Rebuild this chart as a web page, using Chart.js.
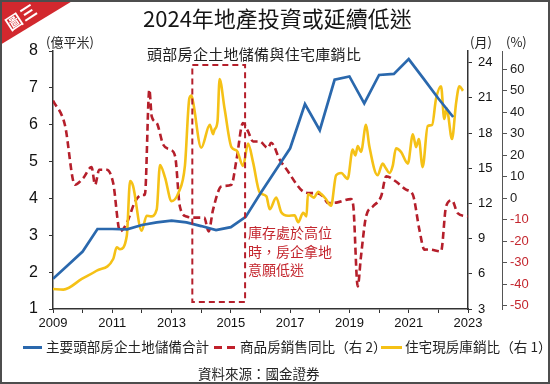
<!DOCTYPE html>
<html><head><meta charset="utf-8">
<script src="https://cdn.jsdelivr.net/npm/chart.js@4/dist/chart.umd.min.js"></script>
<style>
html,body{margin:0;padding:0;background:#fff;}
#wrap{position:relative;width:550px;height:384px;overflow:hidden;background:#fff;font-family:"Noto Sans CJK TC","Noto Sans",sans-serif;color:#222;}
#c{position:absolute;left:0;top:0;}
.t{position:absolute;white-space:nowrap;line-height:1;}
#frame{position:absolute;left:0;top:0;width:550px;height:384px;box-sizing:border-box;border:2px solid #4d4d4d;pointer-events:none;}
#corner{position:absolute;left:0;top:0;width:74px;height:45px;background:#d2282e;clip-path:polygon(0 0,100% 0,0 100%);}
#cornerText{position:absolute;left:4px;top:8px;color:#fff;font-size:16px;font-weight:bold;transform:rotate(-33deg);transform-origin:center;letter-spacing:1px;}
.lg{position:absolute;height:3px;}
</style></head>
<body><div id="wrap">
<canvas id="c" width="550" height="384"></canvas>
<div id="corner"></div>
<div class="t" id="cornerText">圖三</div>
<div class="t" style="left:143px;top:6px;font-size:22px;color:#151515;">2024年地產投資或延續低迷</div>
<div class="t" style="left:147px;top:46px;font-size:15px;color:#222;letter-spacing:0.3px;">頭部房企土地儲備與住宅庫銷比</div>
<div class="t" style="left:46px;top:35px;font-size:13px;color:#222;">(億平米)</div>
<div class="t" style="left:470px;top:35px;font-size:13px;color:#222;">(月)</div>
<div class="t" style="left:506px;top:35px;font-size:13px;color:#222;">(%)</div>
<div class="t" style="left:248px;top:223px;font-size:14px;line-height:18.5px;color:#c4262e;">庫存處於高位<br>時，房企拿地<br>意願低迷</div>
<div class="lg" style="left:23px;top:346px;width:19px;background:#2a68ad;"></div>
<div class="t" style="left:46px;top:340px;font-size:13.6px;">主要頭部房企土地儲備合計</div>
<div class="lg" style="left:214px;top:346px;width:8px;background:#c0202b;"></div>
<div class="lg" style="left:227px;top:346px;width:8px;background:#c0202b;"></div>
<div class="t" style="left:240px;top:340px;font-size:13.6px;">商品房銷售同比（右 2）</div>
<div class="lg" style="left:381px;top:346px;width:21px;background:#f5c116;"></div>
<div class="t" style="left:405px;top:340px;font-size:13.6px;">住宅現房庫銷比（右 1）</div>
<div class="t" style="left:198px;top:367px;font-size:13.5px;">資料來源：國金證券</div>
<div id="frame"></div>
</div>
<script>
// Land reserve of leading developers (left axis, 億平米), half-yearly
const landYears = [2009.0,2009.5,2010.0,2010.5,2011.0,2011.5,2012.0,2012.5,2013.0,2013.5,2014.0,2014.5,2015.0,2015.5,2016.0,2016.5,2017.0,2017.5,2018.0,2018.5,2019.0,2019.5,2020.0,2020.5,2021.0,2021.5,2022.0,2022.5];
const landValues = [1.82,2.19,2.56,3.17,3.17,3.16,3.28,3.35,3.40,3.35,3.25,3.14,3.22,3.50,4.14,4.75,5.36,6.56,5.85,7.22,7.31,6.58,7.35,7.38,7.78,7.25,6.71,6.21];

// Commodity housing sales YoY (right axis 2, %)
const salesYears = [2009.0,2009.4,2009.74,2010.02,2010.3,2010.42,2010.56,2010.81,2011.03,2011.26,2011.49,2011.77,2011.99,2012.1,2012.25,2012.33,2012.5,2012.72,2012.95,2013.12,2013.28,2013.51,2013.77,2014.1,2014.25,2014.4,2014.68,2015.02,2015.19,2015.41,2015.58,2015.75,2015.97,2016.25,2016.36,2016.65,2016.93,2017.15,2017.43,2017.66,2017.9,2018.11,2018.28,2018.6,2019.05,2019.13,2019.28,2019.39,2019.56,2019.79,2020.07,2020.24,2020.57,2020.91,2021.14,2021.36,2021.53,2021.7,2022.09,2022.26,2022.46,2022.65,2022.99];
const salesValues = [45.5,34.2,6.3,9.4,14.5,6.3,13.3,13.3,7.1,-15.4,-11.5,-1.5,1.6,1.6,50.5,38.1,35,24.9,22.6,19.5,-3.8,-8.5,-9,-9,-15.4,-5.3,5.5,6.3,17.9,35,31.1,26.4,26.4,23.4,25.8,17.9,12.5,7.8,3.2,2.4,2.4,0.9,-2.2,-1.9,-0.4,-3.5,-41,-27,-8.5,-3.8,0.9,10.2,7.8,4,1.6,-14.6,-23.9,-23.8,-24.7,-3.8,-1,-6.9,-8.5];

// Residential inventory-to-sales ratio (right axis 1, months)
const stockYears = [2009.0,2009.35,2009.97,2010.47,2011.03,2011.15,2011.26,2011.49,2011.6,2011.7,2011.99,2012.16,2012.3,2012.5,2012.61,2012.78,2013.0,2013.23,2013.45,2013.6,2013.67,2013.73,2014.0,2014.29,2014.4,2014.45,2014.55,2014.62,2014.79,2015.02,2015.2,2015.41,2015.58,2015.75,2015.97,2016.2,2016.31,2016.53,2016.7,2016.93,2017.15,2017.27,2017.44,2017.55,2017.6,2017.8,2017.95,2018.05,2018.2,2018.38,2018.55,2018.72,2018.94,2019.11,2019.2,2019.28,2019.39,2019.56,2019.67,2019.95,2020.12,2020.23,2020.35,2020.46,2020.57,2020.74,2020.97,2021.14,2021.25,2021.34,2021.47,2021.64,2021.79,2021.92,2022.09,2022.2,2022.28,2022.46,2022.6,2022.71,2022.83];
const stockValues = [4.7,4.65,5.56,6.26,7.26,8.26,8.1,9.25,13.9,13.5,9.67,10.95,10.9,11.5,15.28,14.2,12.2,12.9,15.2,20.96,21.2,20.6,16.75,18.7,17.9,18.3,19.0,22.6,20.05,16.8,16.5,15.2,17.1,15.5,12.95,12.6,11.5,12.5,11.25,10.95,11.0,10.4,11.2,10.9,12.8,12.5,13.0,12.8,12.4,11.8,14.4,14.6,14.1,16.6,16.1,16.9,16.4,18.7,16.9,14.4,15.4,15.0,14.6,15.2,16.7,16.4,15.4,17.9,16.8,17.5,15.1,18.6,18.7,20.9,22.0,19.2,20.1,17.5,20.6,22.0,21.6];

// Tick labels
const yearTicks = [2009,2010,2011,2012,2013,2014,2015,2016,2017,2018,2019,2020,2021,2022,2023];
const leftTicks = [1,2,3,4,5,6,7,8];
const monthTicks = [3,6,9,12,15,18,21,24];
const pctTicks = [-50,-40,-30,-20,-10,0,10,20,30,40,50,60];

// Highlight box (years, left-axis values)
const boxYears = [2013.7, 2015.48];
const boxLevels = [1.19, 7.62];

const BLUE = '#2a68ad', RED = '#b51f2b', YELLOW = '#f5c116', AXIS = '#333';
const pts = (xs, ys) => xs.map((x, i) => ({x: x, y: ys[i]}));

const boxPlugin = {
  id: 'box',
  afterDatasetsDraw(chart) {
    const xs = chart.scales.x, ys = chart.scales.y, c = chart.ctx;
    const x0 = xs.getPixelForValue(boxYears[0]), x1 = xs.getPixelForValue(boxYears[1]);
    const y0 = ys.getPixelForValue(boxLevels[1]), y1 = ys.getPixelForValue(boxLevels[0]);
    c.save();
    c.strokeStyle = RED; c.lineWidth = 2; c.setLineDash([6, 4]);
    c.strokeRect(x0, y0, x1 - x0, y1 - y0);
    c.restore();
  }
};

const tickFont = {family: '"Liberation Sans", Arial, sans-serif', size: 13};

new Chart(document.getElementById('c').getContext('2d'), {
  type: 'line',
  data: {
    datasets: [
      {label: '主要頭部房企土地儲備合計', data: pts(landYears, landValues), yAxisID: 'y', borderColor: BLUE, borderWidth: 2.7, pointRadius: 0, tension: 0, fill: false},
      {label: '住宅現房庫銷比（右 1）', data: pts(stockYears, stockValues), yAxisID: 'y1', borderColor: YELLOW, borderWidth: 2.6, pointRadius: 0, cubicInterpolationMode: 'monotone', fill: false},
      {label: '商品房銷售同比（右 2）', data: pts(salesYears, salesValues), yAxisID: 'y2', borderColor: RED, borderWidth: 2.6, borderDash: [7, 4], pointRadius: 0, cubicInterpolationMode: 'monotone', fill: false}
    ]
  },
  options: {
    responsive: false, animation: false, devicePixelRatio: 1,
    layout: {padding: {left: 0, right: 18, top: 51, bottom: 55}},
    plugins: {legend: {display: false}, tooltip: {enabled: false}, title: {display: false}},
    scales: {
      x: {
        type: 'linear', min: 2009, max: 2023,
        afterBuildTicks: s => { s.ticks = yearTicks.map(v => ({value: v})); },
        afterFit: s => { s.height = 20; },
        ticks: {autoSkip: false, maxRotation: 0, padding: 3, font: tickFont, color: '#111',
          callback: v => (v % 2 === 1 ? String(v) : '')},
        grid: {drawOnChartArea: false, tickLength: 4, color: AXIS, lineWidth: 1},
        border: {color: AXIS, width: 1.5}
      },
      y: {
        position: 'left', min: 1, max: 8,
        afterBuildTicks: s => { s.ticks = leftTicks.map(v => ({value: v})); },
        afterFit: s => { s.width = 53; },
        ticks: {padding: 11, font: {family: '"Liberation Sans", Arial, sans-serif', size: 16}, color: '#111'},
        grid: {drawOnChartArea: false, tickLength: 4, color: AXIS},
        border: {color: AXIS, width: 1.5}
      },
      y1: {
        position: 'right', weight: 1, min: 3, max: 25,
        afterBuildTicks: s => { s.ticks = monthTicks.map(v => ({value: v})); },
        afterFit: s => { s.width = 34; },
        ticks: {padding: 6, font: tickFont, color: '#111'},
        grid: {drawOnChartArea: false, tickLength: 4, color: AXIS},
        border: {color: AXIS, width: 1.5}
      },
      y2: {
        position: 'right', weight: 2, min: -51.5, max: 68.5,
        afterBuildTicks: s => { s.ticks = pctTicks.map(v => ({value: v})); },
        afterFit: s => { s.width = 30; },
        ticks: {padding: 3, font: {family: '"Liberation Sans Narrow", "Liberation Sans", Arial, sans-serif', size: 13},
          color: c => (c.tick && c.tick.value < 0 ? '#c4262e' : '#222')},
        grid: {drawOnChartArea: false, tickLength: 5, color: '#555'},
        border: {color: '#555', width: 1}
      }
    }
  },
  plugins: [boxPlugin]
});
</script>
</body></html>
